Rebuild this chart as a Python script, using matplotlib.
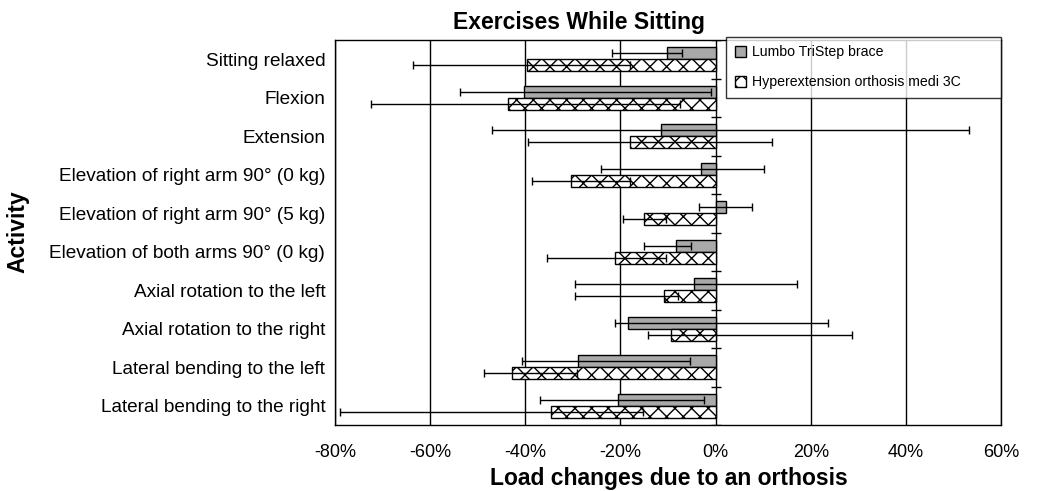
import numpy as np
import matplotlib
matplotlib.use('Agg')
import matplotlib.pyplot as plt
from matplotlib import ticker

plt.rcParams['font.family'] = ['Liberation Sans', 'DejaVu Sans']
plt.rcParams['hatch.linewidth'] = 1.0

activities = [
    "Sitting relaxed",
    "Flexion",
    "Extension",
    "Elevation of right arm 90\u00b0 (0 kg)",
    "Elevation of right arm 90\u00b0 (5 kg)",
    "Elevation of both arms 90\u00b0 (0 kg)",
    "Axial rotation to the left",
    "Axial rotation to the right",
    "Lateral bending to the left",
    "Lateral bending to the right",
]

# load change in %, with lower / upper end of the error bar
lumbo_mean = [-10.2, -40.2, -11.5, -3.0, 2.2, -8.3, -4.5, -18.5, -29.0, -20.5]
lumbo_low = [-21.7, -53.7, -46.9, -24.0, -3.5, -15.0, -29.6, -21.2, -40.6, -36.9]
lumbo_high = [-7.0, -0.9, 53.2, 10.1, 7.6, -5.1, 17.1, 23.6, -5.3, -2.5]

medi_mean = [-39.7, -43.6, -18.0, -30.3, -15.0, -21.2, -10.8, -9.3, -42.7, -34.7]
medi_low = [-63.5, -72.4, -39.4, -38.7, -19.4, -35.5, -29.6, -14.3, -48.7, -79.0]
medi_high = [-18.0, -7.4, 11.9, -18.0, -10.5, -10.5, -7.9, 28.7, -29.2, -15.3]

x_ticks = [-80, -60, -40, -20, 0, 20, 40, 60]

fig = plt.figure(figsize=(10.37, 4.91), dpi=100)
ax = fig.add_axes([0.323, 0.1344, 0.6425, 0.7841])

y = np.arange(len(activities))
h = 0.315

lm = np.array(lumbo_mean)
mm = np.array(medi_mean)
lerr = [lm - np.array(lumbo_low), np.array(lumbo_high) - lm]
merr = [mm - np.array(medi_low), np.array(medi_high) - mm]

ax.barh(y - h / 2, lm, height=h, color='#a9a9a9', edgecolor='black',
        linewidth=1.0, label='Lumbo TriStep brace', zorder=3)
ax.barh(y + h / 2, mm, height=h, color='white', edgecolor='black',
        hatch='xx', linewidth=1.0, label='Hyperextension orthosis medi 3C',
        zorder=3)

ax.errorbar(lm, y - h / 2, xerr=lerr, fmt='none', ecolor='black',
            elinewidth=1.0, capsize=3, capthick=1.0, zorder=4)
ax.errorbar(mm, y + h / 2, xerr=merr, fmt='none', ecolor='black',
            elinewidth=1.0, capsize=3, capthick=1.0, zorder=4)

# category axis crossing at 0 with its tick marks
bounds = np.arange(len(activities) + 1) - 0.5
ax.plot(np.zeros(len(bounds)), bounds, linestyle='none', marker='_',
        markersize=7, markeredgewidth=1.0, color='black', zorder=5)

ax.set_xlim(-80, 60)
ax.set_ylim(len(activities) - 0.5, -0.5)
ax.set_xticks(x_ticks)
ax.xaxis.set_major_formatter(ticker.FuncFormatter(lambda v, p: f"{int(v)}%"))
ax.set_yticks(y)
ax.set_yticklabels(activities, fontsize=13.7)
ax.tick_params(axis='x', labelsize=13, length=0, pad=14)
ax.tick_params(axis='y', length=0, pad=7)

ax.grid(axis='x', color='black', linewidth=1.0, zorder=1)
ax.set_axisbelow(True)
for s in ax.spines.values():
    s.set_color('black')
    s.set_linewidth(1.0)

leg = ax.legend(loc='upper right', bbox_to_anchor=(0.587, 0.0, 0.413, 1.008),
                mode='expand', fontsize=10.2,
                frameon=True, fancybox=False, edgecolor='black',
                handlelength=0.8, handleheight=0.8, handletextpad=0.4,
                labelspacing=1.1, borderpad=0.6, borderaxespad=0)
leg.get_frame().set_linewidth(1.0)
leg.set_zorder(6)

fig.text(579 / 1037, 1 - 22 / 491, "Exercises While Sitting", fontsize=16.5,
         fontweight='bold', ha='center', va='center')
fig.text(669 / 1037, 1 - 478 / 491, "Load changes due to an orthosis",
         fontsize=16.5, fontweight='bold', ha='center', va='center')
fig.text(18 / 1037, 1 - 232 / 491, "Activity", fontsize=16.5,
         fontweight='bold', ha='center', va='center', rotation=90)

fig.savefig('out.png', dpi=100)
